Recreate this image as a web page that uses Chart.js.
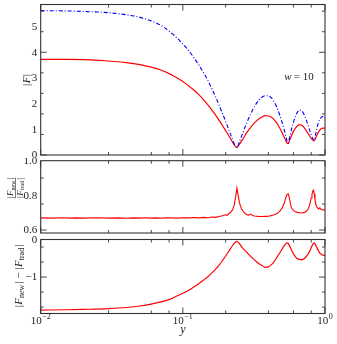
<!DOCTYPE html>
<html>
<head>
<meta charset="utf-8">
<script src="https://cdn.jsdelivr.net/npm/chart.js@4.4.1/dist/chart.umd.min.js"></script>
<style>
  html, body { margin: 0; padding: 0; background: #fff; }
  #wrap { position: relative; width: 337px; height: 344px; }
  canvas { position: absolute; left: 0; }
</style>
</head>
<body>
<div id="wrap">
  <canvas id="cTop" width="337" height="160" style="top:0"></canvas>
  <canvas id="cMid" width="337" height="78" style="top:158px"></canvas>
  <canvas id="cBot" width="337" height="108" style="top:236px"></canvas>
</div>
<script>
// horizontal axis (y) samples, shared by |F| curves and the difference
const ySamples = [0.01, 0.015, 0.02, 0.03, 0.04, 0.05, 0.06, 0.07, 0.08, 0.09,
  0.10, 0.11, 0.12, 0.13, 0.14, 0.15, 0.16, 0.17, 0.18, 0.19,
  0.20, 0.21, 0.22, 0.23, 0.24, 0.25, 0.26, 0.28, 0.30, 0.32,
  0.34, 0.36, 0.38, 0.40, 0.42, 0.44, 0.46, 0.48, 0.50, 0.52,
  0.54, 0.55, 0.56, 0.58, 0.60, 0.62, 0.64, 0.66, 0.68, 0.70,
  0.72, 0.74, 0.76, 0.78, 0.80, 0.82, 0.84, 0.86, 0.88, 0.90,
  0.92, 0.94, 0.96, 0.98, 1.00];

// |F| new (red, solid)
const fNew = [3.72, 3.72, 3.71, 3.66, 3.60, 3.52, 3.42, 3.31, 3.17, 3.02,
  2.86, 2.69, 2.52, 2.34, 2.15, 1.95, 1.75, 1.55, 1.35, 1.15,
  0.95, 0.76, 0.57, 0.39, 0.29, 0.42, 0.56, 0.85, 1.08, 1.26,
  1.39, 1.48, 1.53, 1.52, 1.47, 1.37, 1.23, 1.05, 0.86, 0.66,
  0.46, 0.44, 0.53, 0.74, 0.92, 1.05, 1.14, 1.18, 1.17, 1.12,
  1.04, 0.94, 0.84, 0.74, 0.65, 0.58, 0.55, 0.66, 0.79, 0.90,
  0.97, 1.02, 1.05, 1.05, 1.04];

// |F| trad (blue, dash-dot)
const fTrad = [5.62, 5.61, 5.59, 5.54, 5.46, 5.36, 5.22, 5.05, 4.82, 4.58,
  4.32, 4.06, 3.78, 3.49, 3.20, 2.90, 2.58, 2.26, 1.94, 1.62,
  1.31, 1.00, 0.71, 0.44, 0.30, 0.52, 0.76, 1.22, 1.60, 1.90,
  2.12, 2.25, 2.31, 2.30, 2.22, 2.06, 1.84, 1.56, 1.25, 0.92,
  0.56, 0.46, 0.62, 0.98, 1.28, 1.51, 1.67, 1.75, 1.74, 1.66,
  1.52, 1.35, 1.15, 0.96, 0.79, 0.64, 0.57, 0.82, 1.08, 1.27,
  1.39, 1.46, 1.50, 1.51, 1.49];

// |F_new| - |F_trad|
const fDiff = [-1.88, -1.87, -1.86, -1.84, -1.81, -1.77, -1.72, -1.66, -1.60, -1.51,
  -1.43, -1.35, -1.26, -1.17, -1.08, -0.99, -0.89, -0.79, -0.68, -0.56,
  -0.44, -0.32, -0.20, -0.10, -0.05, -0.11, -0.20, -0.33, -0.45, -0.55,
  -0.63, -0.69, -0.74, -0.73, -0.67, -0.58, -0.47, -0.36, -0.25, -0.15,
  -0.09, -0.10, -0.15, -0.27, -0.38, -0.46, -0.51, -0.53, -0.54, -0.53,
  -0.50, -0.45, -0.39, -0.31, -0.22, -0.13, -0.09, -0.15, -0.23, -0.30,
  -0.36, -0.39, -0.41, -0.42, -0.42];

// ratio |F_new| / |F_trad| (noisier, sampled separately)
const ratioX = [0.01, 0.012, 0.014, 0.016, 0.018, 0.02, 0.025, 0.03, 0.035, 0.04,
  0.045, 0.05, 0.055, 0.06, 0.065, 0.07, 0.075, 0.08, 0.09, 0.10,
  0.11, 0.12, 0.13, 0.14, 0.15, 0.16, 0.17, 0.18, 0.19, 0.20,
  0.205, 0.21, 0.215, 0.22, 0.225, 0.23, 0.235, 0.24, 0.245, 0.25,
  0.255, 0.26, 0.27, 0.28, 0.29, 0.30, 0.31, 0.32, 0.34, 0.36,
  0.38, 0.40, 0.42, 0.44, 0.46, 0.48, 0.50, 0.52, 0.53, 0.54,
  0.55, 0.56, 0.57, 0.58, 0.60, 0.62, 0.64, 0.66, 0.68, 0.70,
  0.72, 0.74, 0.76, 0.78, 0.80, 0.81, 0.82, 0.83, 0.84, 0.85,
  0.86, 0.88, 0.90, 0.92, 0.94, 0.96, 0.98, 1.00];
const ratioVals = [0.670, 0.669, 0.671, 0.669, 0.670, 0.669, 0.671, 0.669, 0.670, 0.668,
  0.670, 0.669, 0.671, 0.669, 0.670, 0.668, 0.670, 0.671, 0.669, 0.671,
  0.670, 0.672, 0.670, 0.673, 0.671, 0.675, 0.673, 0.678, 0.682, 0.688,
  0.685, 0.694, 0.700, 0.708, 0.722, 0.745, 0.790, 0.842, 0.800, 0.760,
  0.735, 0.718, 0.700, 0.690, 0.686, 0.692, 0.684, 0.681, 0.679, 0.678,
  0.679, 0.680, 0.684, 0.688, 0.695, 0.708, 0.728, 0.762, 0.788, 0.805,
  0.810, 0.790, 0.755, 0.728, 0.712, 0.706, 0.702, 0.700, 0.698, 0.700,
  0.702, 0.708, 0.720, 0.745, 0.785, 0.805, 0.825, 0.830, 0.810, 0.775,
  0.750, 0.730, 0.722, 0.728, 0.718, 0.716, 0.717, 0.715];

// tick labels
const xMajor = [0.01, 0.1, 1];
const xTickExp = ["\u22122", "\u22121", "0"];
const topTicks = [0, 1, 2, 3, 4, 5];
const topLabels = ["0", "1", "2", "3", "4", "5"];
const midTicks = [0.6, 0.8, 1.0];
const midLabels = ["0.6", "0.8", "1.0"];
const botTicks = [-1, 0];
const botLabels = ["\u22121", "0"];

const SERIF = '"Liberation Serif", "DejaVu Serif", serif';
const AXIS = "#333";
const TEXT = "#222";
const RED = "#ff0000";
const BLUE = "#0000ff";

function pts(xs, vs) {
  return xs.map(function (x, i) { return { x: x, y: vs[i] }; });
}

// draw a run of text pieces centred on (cx, cy), optionally rotated
function richText(ctx, parts, cx, cy, angle, base) {
  ctx.save();
  ctx.translate(cx, cy);
  if (angle) ctx.rotate(angle);
  ctx.textAlign = "left";
  ctx.textBaseline = "alphabetic";
  var w = 0;
  parts.forEach(function (p) {
    ctx.font = p.font;
    p.w = ctx.measureText(p.text).width + (p.gap || 0);
    w += p.w;
  });
  var x = -w / 2;
  parts.forEach(function (p) {
    ctx.font = p.font;
    ctx.fillText(p.text, x + (p.pre || 0), (base || 0) + (p.dy || 0));
    x += p.w;
  });
  ctx.restore();
  return w;
}

function absF(size, sub) {
  var out = [
    { text: "|", font: size + "px " + SERIF, gap: 0.5 },
    { text: "F", font: "italic " + size + "px " + SERIF }
  ];
  if (sub) out.push({ text: sub, font: Math.round(size * 0.72) + "px " + SERIF, dy: size * 0.22, gap: 0.5 });
  out.push({ text: "|", font: size + "px " + SERIF, pre: 0.5, gap: 0.5 });
  return out;
}

function makeDecor(cfg) {
  return {
    id: "decor",
    afterDraw: function (chart) {
      var ctx = chart.ctx, a = chart.chartArea;
      var sx = chart.scales.x, sy = chart.scales.y;
      ctx.save();
      ctx.strokeStyle = AXIS;
      ctx.lineWidth = 0.9;
      ctx.beginPath();
      sx.ticks.forEach(function (t) {
        var lg = Math.log10(t.value);
        var major = Math.abs(lg - Math.round(lg)) < 1e-6;
        var len = major ? 6 : 3;
        var px = sx.getPixelForValue(t.value);
        ctx.moveTo(px, a.top); ctx.lineTo(px, a.top + len);
        ctx.moveTo(px, a.bottom); ctx.lineTo(px, a.bottom - len);
      });
      sy.ticks.forEach(function (t) {
        var q = t.value / cfg.step;
        if (Math.abs(q - Math.round(q)) > 1e-6) return;
        var major = cfg.yTicks.some(function (m) { return Math.abs(m - t.value) < 1e-6; });
        var len = major ? 6 : 3;
        var py = sy.getPixelForValue(t.value);
        ctx.moveTo(a.left, py); ctx.lineTo(a.left + len, py);
        ctx.moveTo(a.right, py); ctx.lineTo(a.right - len, py);
      });
      ctx.stroke();
      ctx.lineWidth = 1.1;
      ctx.strokeRect(a.left, a.top, a.right - a.left, a.bottom - a.top);

      ctx.fillStyle = TEXT;
      ctx.font = "11px " + SERIF;
      ctx.textAlign = "right";
      ctx.textBaseline = "middle";
      cfg.yTicks.forEach(function (v, i) {
        ctx.fillText(cfg.yLabels[i], a.left - 3.5, sy.getPixelForValue(v) + 0.5);
      });
      if (cfg.extra) cfg.extra(ctx, a, sx, sy);
      ctx.restore();
    }
  };
}

function options(pad, yMin, yMax, step) {
  return {
    responsive: false,
    animation: false,
    events: [],
    layout: { padding: pad },
    plugins: { legend: { display: false }, tooltip: { enabled: false } },
    elements: { point: { radius: 0 } },
    scales: {
      x: { type: "logarithmic", min: 0.01, max: 1, display: false },
      y: { type: "linear", min: yMin, max: yMax, display: false,
           ticks: { stepSize: step, maxTicksLimit: 1000, includeBounds: false } }
    }
  };
}

// top panel: |F|
new Chart(document.getElementById("cTop"), {
  type: "line",
  data: {
    datasets: [
      { data: pts(ySamples, fTrad), borderColor: BLUE, borderWidth: 1.1,
        borderDash: [4, 2, 1, 2], cubicInterpolationMode: "monotone" },
      { data: pts(ySamples, fNew), borderColor: RED, borderWidth: 1.2,
        cubicInterpolationMode: "monotone" }
    ]
  },
  options: options({ left: 40.7, right: 12, top: 4.5, bottom: 5 }, 0, 5.86, 0.2),
  plugins: [makeDecor({
    step: 0.2, yTicks: topTicks, yLabels: topLabels,
    extra: function (ctx, a) {
      ctx.fillStyle = TEXT;
      richText(ctx, absF(11), 26, 80, -Math.PI / 2, 3.5);
      richText(ctx, [
        { text: "w", font: "italic 11px " + SERIF, gap: 2 },
        { text: "= 10", font: "11px " + SERIF }
      ], 299, 76, 0, 4);
    }
  })]
});

// middle panel: ratio
new Chart(document.getElementById("cMid"), {
  type: "line",
  data: {
    datasets: [
      { data: pts(ratioX, ratioVals), borderColor: RED, borderWidth: 1.1 }
    ]
  },
  options: options({ left: 40.7, right: 12, top: 2.7, bottom: 3 }, 0.583, 1.0, 0.05),
  plugins: [makeDecor({
    step: 0.05, yTicks: midTicks, yLabels: midLabels,
    extra: function (ctx) {
      ctx.fillStyle = TEXT;
      var cx = 17, cy = 30;
      var wn = richText(ctx, absF(9, "new"), cx - 4, cy, -Math.PI / 2, 0);
      var wd = richText(ctx, absF(9, "trad"), cx + 5.5, cy, -Math.PI / 2, 0);
      var w = Math.max(wn, wd);
      ctx.strokeStyle = TEXT;
      ctx.lineWidth = 0.6;
      ctx.beginPath();
      ctx.moveTo(cx - 1.5, cy - w / 2);
      ctx.lineTo(cx - 1.5, cy + w / 2);
      ctx.stroke();
    }
  })]
});

// bottom panel: difference
new Chart(document.getElementById("cBot"), {
  type: "line",
  data: {
    datasets: [
      { data: pts(ySamples, fDiff), borderColor: RED, borderWidth: 1.2,
        cubicInterpolationMode: "monotone" }
    ]
  },
  options: options({ left: 40.7, right: 12, top: 3.5, bottom: 30.5 }, -1.97, 0, 0.2),
  plugins: [makeDecor({
    step: 0.2, yTicks: botTicks, yLabels: botLabels,
    extra: function (ctx, a, sx) {
      ctx.fillStyle = TEXT;
      var parts = absF(11, "new").concat([{ text: " \u2212 ", font: "11px " + SERIF }]).concat(absF(11, "trad"));
      richText(ctx, parts, 18, 40, -Math.PI / 2, 3.5);
      xMajor.forEach(function (v, i) {
        richText(ctx, [
          { text: "10", font: "11px " + SERIF, gap: 0.5 },
          { text: xTickExp[i], font: "8px " + SERIF, dy: -5 }
        ], sx.getPixelForValue(v), 84, 0, 4);
      });
      richText(ctx, [{ text: "y", font: "italic 12px " + SERIF }], (a.left + a.right) / 2, 97, 0, 0);
    }
  })]
});
</script>
</body>
</html>
